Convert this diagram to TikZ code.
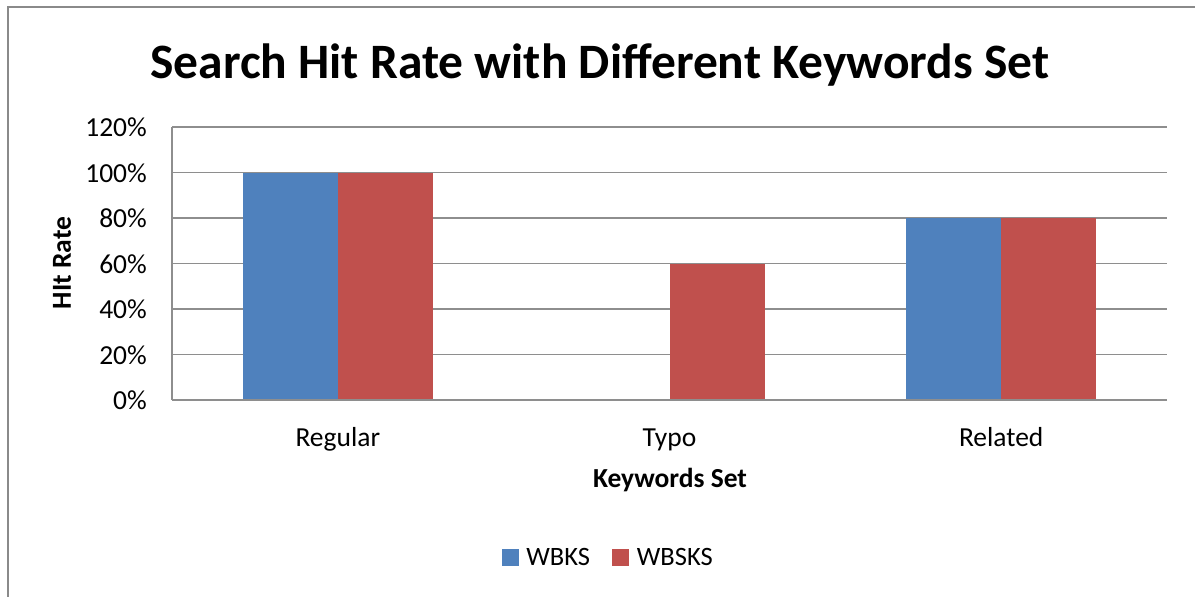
\documentclass[tikz,border=0pt]{standalone}
\usepackage{fontspec}
\setmainfont{Carlito}
\usetikzlibrary{positioning}
\definecolor{wbksblue}{HTML}{4F81BD}
\definecolor{wbsksred}{HTML}{C0504D}
\definecolor{gridgray}{HTML}{8E8E8E}
\definecolor{framegray}{HTML}{8A8A8A}

\begin{document}
\begin{tikzpicture}[x=1pt, y=-1pt,
  gridline/.style={draw=gridgray, line width=1.3pt},
  ticklabel/.style={font=\fontsize{27.5}{32}\selectfont, anchor=base east, inner sep=0pt},
  catlabel/.style={font=\fontsize{27.5}{32}\selectfont, anchor=base, inner sep=0pt},
  axislabel/.style={font=\fontsize{27.5}{32}\selectfont\bfseries, inner sep=0pt},
  legendkey/.style={minimum size=17pt, inner sep=0pt, draw=none},
  legendtext/.style={font=\fontsize{26.5}{30}\selectfont, inner sep=0pt}]
\useasboundingbox (0,0) rectangle (1195,597);
% chart frame
\draw[draw=framegray, line width=2.4pt] (8,620) |- (1220,7);
% title
\node[font=\fontsize{49.5}{56}\selectfont\bfseries, anchor=base, inner sep=0pt] (title) at (600,78) {Search Hit Rate with Different Keywords Set};
% grid and y ticks
\foreach \p in {0,20,...,120} {
  \draw[gridline] (172,{400-2.275*\p}) -- (1167,{400-2.275*\p});
  \node[ticklabel] (tick\p) at (147,{409.5-2.275*\p}) {\p\%};
}
\draw[gridline] (172,127) -- (172,400);
% bars
\foreach \xc/\a/\b in {337.8/100/100, 669.5/0/60, 1001.2/80/80} {
  \fill[wbksblue] (\xc-95,400) rectangle (\xc,{400-2.275*\a});
  \fill[wbsksred] (\xc,400) rectangle (\xc+95,{400-2.275*\b});
}
\draw[gridline] (172,400) -- (1167,400);
% categories
\node[catlabel] (regular) at (337.8,446) {Regular};
\node[catlabel] (typo) at (669.5,446) {Typo};
\node[catlabel] (related) at (1001.2,446) {Related};
\node[axislabel, anchor=base] (xlabel) at (670,487) {Keywords Set};
\node[axislabel, rotate=90] (ylabel) at (62,263) {HIt Rate};
% legend
\node[legendkey, fill=wbksblue] (keyA) at (510.5,557) {};
\node[legendtext, right=7pt of keyA] (textA) {WBKS};
\node[legendkey, fill=wbsksred] (keyB) at (620,557) {};
\node[legendtext, right=8pt of keyB] (textB) {WBSKS};
\end{tikzpicture}
\end{document}
